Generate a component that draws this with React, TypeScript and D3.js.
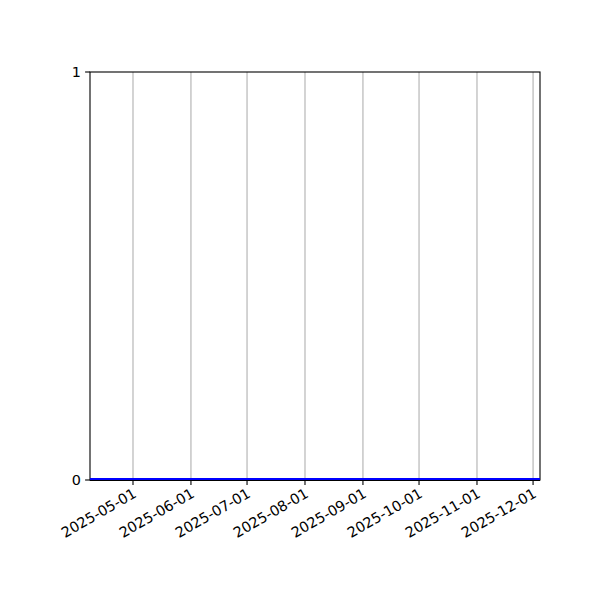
import React, { useEffect, useRef } from 'react';
import * as d3 from 'd3';

// data: daily series, all zero across the visible window
const dates = ['2025-04-08', '2025-12-05'];
const values = [0, 0];
const tickDates = ['2025-05-01', '2025-06-01', '2025-07-01', '2025-08-01', '2025-09-01', '2025-10-01', '2025-11-01', '2025-12-01'];
const yTicks = [0, 1];

const parse = d3.utcParse('%Y-%m-%d');

export default function App() {
  const ref = useRef<SVGSVGElement>(null);

  useEffect(() => {
    if (!ref.current) return;
    const svg = d3.select(ref.current);
    svg.selectAll('*').remove();

    const left = 90, right = 540, top = 72, bottom = 480;
    const font = 'DejaVu Sans, sans-serif';

    const x = d3.scaleUtc()
      .domain([parse('2025-04-08')!, d3.utcHour.offset(parse('2025-12-04')!, 17)])
      .range([left, right]);
    const y = d3.scaleLinear().domain([0, 1]).range([bottom, top]);

    svg.append('rect').attr('width', 600).attr('height', 600).attr('fill', 'white');

    svg.append('defs').append('clipPath').attr('id', 'plot-clip')
      .append('rect').attr('x', left).attr('y', top).attr('width', right - left).attr('height', bottom - top);

    // vertical grid
    const ticks = tickDates.map(d => parse(d)!);
    svg.append('g').selectAll('line').data(ticks).join('line')
      .attr('x1', d => x(d)).attr('x2', d => x(d))
      .attr('y1', top).attr('y2', bottom)
      .attr('stroke', '#b0b0b0').attr('stroke-width', 1.1);

    // spines
    svg.append('rect')
      .attr('x', left).attr('y', top).attr('width', right - left).attr('height', bottom - top)
      .attr('fill', 'none').attr('stroke', 'black').attr('stroke-width', 1.1);

    // series (sits on the bottom spine, clipped to the plot area)
    const pts = dates.map((d, i) => ({ date: parse(d)!, v: values[i] }));
    const line = d3.line<{ date: Date; v: number }>().x(d => x(d.date)).y(d => y(d.v));
    svg.append('path').datum(pts)
      .attr('clip-path', 'url(#plot-clip)')
      .attr('fill', 'none').attr('stroke', '#0000ff').attr('stroke-width', 4)
      .attr('d', line);
    svg.append('line')
      .attr('x1', left).attr('x2', right).attr('y1', bottom + 0.5).attr('y2', bottom + 0.5)
      .attr('stroke', 'black').attr('stroke-width', 1);

    // x ticks + labels
    const xg = svg.append('g');
    xg.selectAll('line').data(ticks).join('line')
      .attr('x1', d => x(d)).attr('x2', d => x(d))
      .attr('y1', bottom).attr('y2', bottom + 4.9)
      .attr('stroke', 'black').attr('stroke-width', 1.1);
    xg.selectAll('text').data(ticks).join('text')
      .attr('transform', d => `translate(${x(d) - 1},${bottom + 7}) rotate(-30)`)
      .attr('text-anchor', 'end')
      .attr('dy', '0.75em')
      .attr('font-family', font).attr('font-size', 14.4)
      .text(d => d3.utcFormat('%Y-%m-%d')(d));

    // y ticks + labels
    const yg = svg.append('g');
    yg.selectAll('line').data(yTicks).join('line')
      .attr('x1', left - 4.9).attr('x2', left)
      .attr('y1', d => y(d)).attr('y2', d => y(d))
      .attr('stroke', 'black').attr('stroke-width', 1.1);
    yg.selectAll('text').data(yTicks).join('text')
      .attr('x', left - 9).attr('y', d => y(d))
      .attr('dy', '0.35em')
      .attr('text-anchor', 'end')
      .attr('font-family', font).attr('font-size', 14.4)
      .text(d => String(d));
  }, []);

  return <svg ref={ref} width={600} height={600} style={{ display: 'block', position: 'absolute', left: 0, top: 0 }} />;
}
